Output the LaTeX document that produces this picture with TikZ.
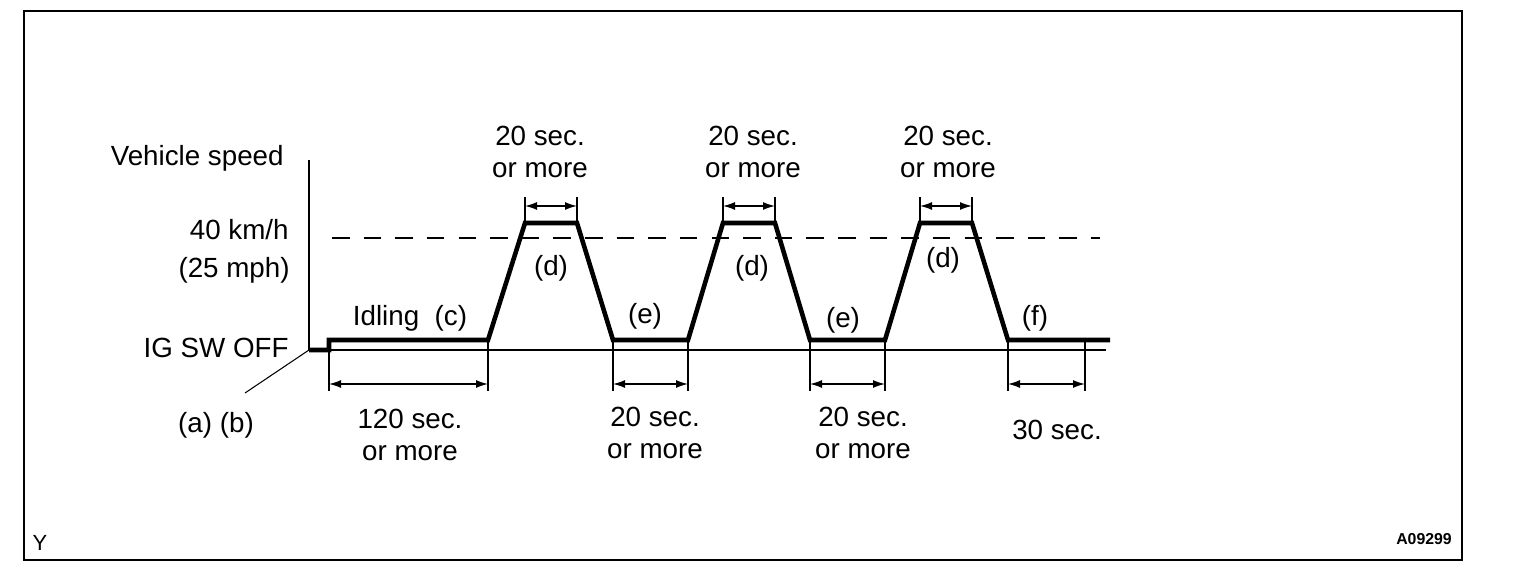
\documentclass[tikz,border=0pt]{standalone}
\usepackage{fontspec}
\setmainfont{Liberation Sans}
\usetikzlibrary{arrows.meta}

\begin{document}
\begin{tikzpicture}[x=0.02cm, y=-0.02cm, >={Latex[length=2.4mm, width=1.6mm]},
  lbl/.style={font=\fontsize{15.8}{18.7}\selectfont, align=center, inner sep=0pt},
  prof/.style={line width=2.6pt, line join=miter},
  base/.style={line width=0.6pt},
  ext/.style={line width=0.8pt},
  dimline/.style={<->, line width=0.8pt}]
\useasboundingbox (0,0) rectangle (1536,574);
\draw[line width=1.3pt] (24,11) rectangle (1462,560);
% speed profile
\coordinate (o) at (309,350); \coordinate (ytop) at (309,160);
\coordinate (xend) at (1106,350); \coordinate (ab) at (245,393);
\coordinate (s0) at (329,350); \coordinate (s1) at (329,340); \coordinate (i1) at (488,340);
\coordinate (p1a) at (525,223); \coordinate (p1b) at (577,223);
\coordinate (v1a) at (613,340); \coordinate (v1b) at (688,340);
\coordinate (p2a) at (723,223); \coordinate (p2b) at (775,223);
\coordinate (v2a) at (810,340); \coordinate (v2b) at (885,340);
\coordinate (p3a) at (920,223); \coordinate (p3b) at (972,223);
\coordinate (v3a) at (1008,340); \coordinate (fend) at (1110,340); \coordinate (f30) at (1085,340);
\coordinate (lim0) at (332,238); \coordinate (lim1) at (1100,238);
\draw[base] (ytop) -- (o) -- (xend); \draw[base] (o) -- (ab);
\draw[line width=1pt, dash pattern=on 10pt off 8pt] (lim0) -- (lim1);
\draw[prof] (o) -- (s0) -- (s1) -- (i1) -- (p1a) -- (p1b) -- (v1a) -- (v1b) -- (p2a) -- (p2b)
  -- (v2a) -- (v2b) -- (p3a) -- (p3b) -- (v3a) -- (fend);
% dimensions
\coordinate (dtop) at (0,197); \coordinate (dtopa) at (0,206);
\coordinate (dlow) at (0,391); \coordinate (dlowa) at (0,384);
\foreach \a/\b in {p1a/p1b, p2a/p2b, p3a/p3b} {
  \draw[ext] (\a) -- (\a |- dtop); \draw[ext] (\b) -- (\b |- dtop);
  \draw[dimline] (\a |- dtopa) -- (\b |- dtopa);
}
\foreach \a/\b in {s1/i1, v1a/v1b, v2a/v2b, v3a/f30} {
  \draw[ext] (\a) -- (\a |- dlow); \draw[ext] (\b) -- (\b |- dlow);
  \draw[dimline] (\a |- dlowa) -- (\b |- dlowa);
}
% labels
\node[lbl, anchor=east] (vs) at (284,158) {Vehicle speed};
\node[lbl, anchor=east] (kmh) at (289,230) {40 km/h};
\node[lbl, anchor=east] (mph) at (290,270) {(25 mph)};
\node[lbl, anchor=east] (ig) at (289,348) {IG SW OFF};
\node[lbl] (abl) at (216,425) {(a) (b)};
\node[lbl] (idl) at (410,318) {Idling~~(c)};
\node[lbl] (t120) at (410,435) {120 sec.\\or more};
\node[lbl] (tp1) at (540,152) {20 sec.\\or more};
\node[lbl] (tp2) at (753,152) {20 sec.\\or more};
\node[lbl] (tp3) at (948,152) {20 sec.\\or more};
\node[lbl] (d1) at (551,268) {(d)};
\node[lbl] (d2) at (752,268) {(d)};
\node[lbl] (d3) at (943,260) {(d)};
\node[lbl] (e1) at (645,316) {(e)};
\node[lbl] (e2) at (843,320) {(e)};
\node[lbl] (f1) at (1035,318) {(f)};
\node[lbl] (tv1) at (655,433) {20 sec.\\or more};
\node[lbl] (tv2) at (863,433) {20 sec.\\or more};
\node[lbl] (t30) at (1057,430) {30 sec.};
\node[font=\fontsize{12.5}{14}\selectfont, inner sep=0pt] (ym) at (40,543) {Y};
\node[font=\fontsize{9}{11}\selectfont\bfseries, inner sep=0pt] (fig) at (1424,539) {A09299};
\end{tikzpicture}
\end{document}
